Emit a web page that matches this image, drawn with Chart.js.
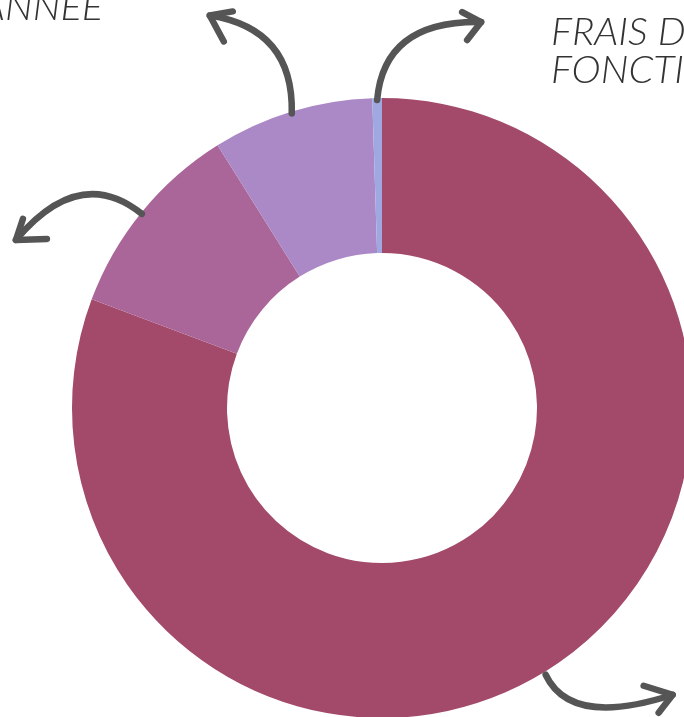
<!DOCTYPE html>
<html>
<head>
  <meta charset="UTF-8">
  <title>Répartition du budget</title>
  <script src="https://cdn.jsdelivr.net/npm/chart.js"></script>
  <style>
    html, body {
      margin: 0;
      padding: 0;
      background: #fff;
      overflow: hidden;
      width: 684px;
      height: 717px;
    }
    #wrap {
      position: relative;
      width: 684px;
      height: 717px;
      overflow: hidden;
    }
    canvas {
      position: absolute;
      left: 0;
      top: 0;
    }
    .lbl {
      position: absolute;
      font-family: Lato, "Open Sans", sans-serif;
      font-weight: 300;
      font-style: italic;
      font-size: 38px;
      line-height: 38px;
      color: #333;
      white-space: nowrap;
    }
  </style>
</head>
<body>
  <div id="wrap">
    <canvas id="budgetChart" width="764" height="816"></canvas>
    <div class="lbl" style="left:-300px; width:403px; top:-14px; text-align:right; transform:scaleX(1.04); transform-origin:right top;">DE L'ANNÉE</div>
    <div class="lbl" style="left:551px; top:11px; transform:scaleX(1.04); transform-origin:left top;">FRAIS DE<br>FONCTIONNEMENT</div>
  </div>

  <script>
    const categories = ['Grand poste', 'Deuxième poste', "Résultat de l'année", 'Frais de fonctionnement'];
    const shares = [80.7, 10.4, 8.4, 0.5];
    const colours = ['#A34A6B', '#AB6699', '#AB88C6', '#A0A8E2'];

    // hand-drawn arrows, offsets from the outer middle of each slice
    const arrowShapes = [
      { s: [-13, 10], c: [25, 53], t: [127, 20], b1: [98, 11], b2: [113, 38] },
      { s: [0, 0], c: [-62, -50], t: [-126, 26], b1: [-119, 5], b2: [-95, 25] },
      { s: [0, 0], c: [2, -85], t: [-82, -98], b1: [-59, -102], b2: [-68, -72] },
      { s: [0, 0], c: [7, -80], t: [104, -78], b1: [85, -88], b2: [90, -60] }
    ];

    const arrows = {
      id: 'arrows',
      afterDatasetsDraw(chart) {
        const ctx = chart.ctx;
        const meta = chart.getDatasetMeta(0);
        ctx.save();
        ctx.strokeStyle = '#555';
        ctx.lineWidth = 6.5;
        ctx.lineCap = 'round';
        ctx.lineJoin = 'round';
        meta.data.forEach((arc, i) => {
          const a = arrowShapes[i];
          if (!a) return;
          const mid = (arc.startAngle + arc.endAngle) / 2;
          const sx = arc.x + Math.cos(mid) * arc.outerRadius + a.s[0];
          const sy = arc.y + Math.sin(mid) * arc.outerRadius + 2 + a.s[1];
          ctx.beginPath();
          ctx.moveTo(sx, sy);
          ctx.quadraticCurveTo(sx + a.c[0], sy + a.c[1], sx + a.t[0], sy + a.t[1]);
          ctx.stroke();
          ctx.beginPath();
          ctx.moveTo(sx + a.b1[0], sy + a.b1[1]);
          ctx.lineTo(sx + a.t[0], sy + a.t[1]);
          ctx.lineTo(sx + a.b2[0], sy + a.b2[1]);
          ctx.stroke();
        });
        ctx.restore();
      }
    };

    new Chart(document.getElementById('budgetChart'), {
      type: 'doughnut',
      data: {
        labels: categories,
        datasets: [{
          data: shares,
          backgroundColor: colours,
          borderWidth: 0
        }]
      },
      options: {
        responsive: false,
        animation: false,
        cutout: '50%',
        layout: { padding: { left: 72, right: 72, top: 98, bottom: 98 } },
        plugins: {
          legend: { display: false },
          tooltip: { enabled: false }
        }
      },
      plugins: [arrows]
    });
  </script>
</body>
</html>
